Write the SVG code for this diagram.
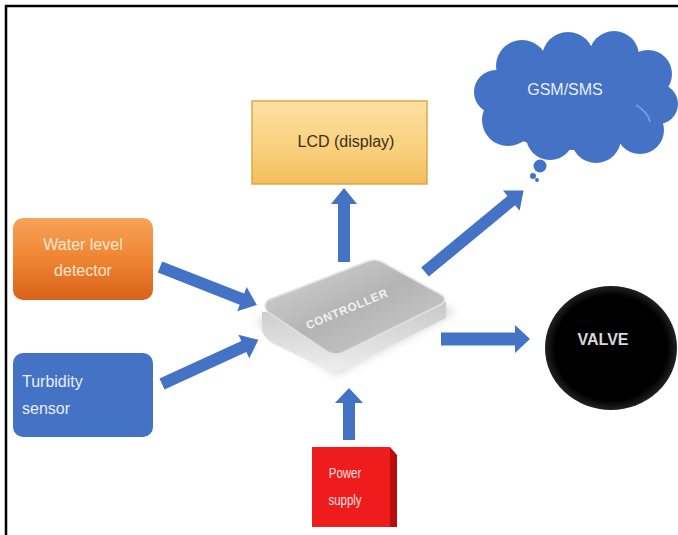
<svg xmlns="http://www.w3.org/2000/svg" width="678" height="535" viewBox="0 0 678 535">
<defs>
<style>
.arr{fill:#4472c4}
.lbl{font-family:"Liberation Sans",Arial,sans-serif;font-size:16px}
.nar{font-family:"Liberation Sans",Arial,sans-serif;font-size:14px;fill:#fde0e0}
</style>
<linearGradient id="gOrange" x1="0" y1="0" x2="0" y2="1">
<stop offset="0" stop-color="#f7a35a"/><stop offset="0.5" stop-color="#ee8532"/><stop offset="1" stop-color="#d9621a"/>
</linearGradient>
<linearGradient id="gLcd" x1="0" y1="0" x2="0" y2="1">
<stop offset="0" stop-color="#fde1a2"/><stop offset="0.6" stop-color="#f9cf7c"/><stop offset="1" stop-color="#f2bd5c"/>
</linearGradient>
<linearGradient id="gCtrlTop" x1="0" y1="0" x2="1" y2="1">
<stop offset="0" stop-color="#d6d6d6"/><stop offset="0.5" stop-color="#b4b4b4"/><stop offset="1" stop-color="#cfcfcf"/>
</linearGradient>
<linearGradient id="gCtrlSide" x1="0" y1="0" x2="0" y2="1">
<stop offset="0" stop-color="#c8c8c8"/><stop offset="1" stop-color="#eeeeee"/>
</linearGradient>
<radialGradient id="gValve" cx="0.5" cy="0.5" r="0.5">
<stop offset="0.85" stop-color="#000"/><stop offset="1" stop-color="#222"/>
</radialGradient>
<filter id="blur" x="-20%" y="-20%" width="140%" height="140%"><feGaussianBlur stdDeviation="5"/></filter>
</defs>
<rect x="0" y="0" width="678" height="535" fill="#ffffff"/>
<path d="M6,535 V6 H678" fill="none" stroke="#000" stroke-width="2.5"/>

<g id="connectors">
<path class="arr" transform="translate(344,262) rotate(-90)" d="M0,-6 H58 V-13 L74,0 L58,13 V6 H0 Z"/>
<path class="arr" transform="translate(160,267) rotate(21.4)" d="M0,-6 H88 V-13 L104,0 L88,13 V6 H0 Z"/>
<path class="arr" transform="translate(162,384) rotate(-24.6)" d="M0,-6 H90 V-13 L106,0 L90,13 V6 H0 Z"/>
<path class="arr" transform="translate(425,272) rotate(-39.6)" d="M0,-6 H112 V-13 L128,0 L112,13 V6 H0 Z"/>
<path class="arr" transform="translate(441,339)" d="M0,-6.5 H74 V-14 L89,0 L74,14 V6.5 H0 Z"/>
<path class="arr" transform="translate(349,440) rotate(-90)" d="M0,-6 H37 V-14 L52,0 L37,14 V6 H0 Z"/>
</g>

<g id="lcd">
<rect x="252" y="101" width="175" height="83" fill="url(#gLcd)" stroke="#d9a94a" stroke-width="1.5"/>
<text class="lbl" x="346" y="147" text-anchor="middle" fill="#3a2e14">LCD (display)</text>
</g>

<g id="gsm">
<g fill="#4472c4">
<ellipse cx="575" cy="100" rx="92" ry="50"/>
<circle cx="522" cy="66" r="26"/>
<circle cx="568" cy="58" r="26"/>
<circle cx="614" cy="56" r="25"/>
<circle cx="648" cy="74" r="24"/>
<circle cx="658" cy="104" r="20"/>
<circle cx="640" cy="130" r="24"/>
<circle cx="596" cy="138" r="25"/>
<circle cx="550" cy="136" r="24"/>
<circle cx="508" cy="120" r="26"/>
<circle cx="496" cy="92" r="22"/>
<circle cx="540" cy="166" r="6.5"/>
<circle cx="533" cy="176" r="3"/>
<circle cx="537" cy="180" r="2"/>
</g>
<path d="M636,105 Q648,112 650,122" fill="none" stroke="#7fa0dc" stroke-width="1.5"/>
<text class="lbl" x="565" y="95" text-anchor="middle" font-size="18" fill="#e8eefa">GSM/SMS</text>
</g>

<g id="water">
<rect x="13" y="218" width="140" height="82" rx="10" fill="url(#gOrange)"/>
<text class="lbl" x="83" y="250" text-anchor="middle" fill="#fde6d0">Water level</text>
<text class="lbl" x="83" y="276" text-anchor="middle" fill="#fde6d0">detector</text>
</g>

<g id="turbidity">
<rect x="13" y="353" width="140" height="84" rx="10" fill="#4472c4"/>
<text class="lbl" x="22" y="387" fill="#e8eefa">Turbidity</text>
<text class="lbl" x="22" y="414" fill="#e8eefa">sensor</text>
</g>

<g id="controller">
<path d="M256,322 L368,268 L455,312 L336,374 Z" fill="#bdbdbd" filter="url(#blur)" opacity="0.7"/>
<path d="M262,312 L262,330 Q264,338 272,343 L328,370 Q336,373 344,369 L446,318 L446,302 Z" fill="url(#gCtrlSide)"/>
<path d="M268,300 Q262,306 268,312 L328,352 Q336,356 344,352 L442,304 Q448,298 440,294 L382,262 Q374,258 366,262 Z" fill="url(#gCtrlTop)" stroke="#e2e2e2" stroke-width="1.5"/>
<text x="347" y="313" transform="rotate(-22.5 347 309)" text-anchor="middle" font-family="Liberation Sans,Arial,sans-serif" font-size="11.5" font-weight="bold" letter-spacing="0.8" fill="#f2f2f2">CONTROLLER</text>
</g>

<g id="valve">
<ellipse cx="611" cy="348" rx="66" ry="62" fill="url(#gValve)"/>
<text x="603" y="345" text-anchor="middle" font-family="Liberation Sans,Arial,sans-serif" font-size="16" font-weight="bold" fill="#d8d8d8">VALVE</text>
</g>

<g id="power">
<polygon points="384,447 390,447 397,455 397,527 390,527" fill="#b80e0e"/>
<rect x="312" y="447" width="78" height="80" fill="#ee1c1c"/>
<text class="nar" transform="translate(345,478) scale(0.82,1)" text-anchor="middle">Power</text>
<text class="nar" transform="translate(345,505) scale(0.82,1)" text-anchor="middle">supply</text>
</g>
</svg>
